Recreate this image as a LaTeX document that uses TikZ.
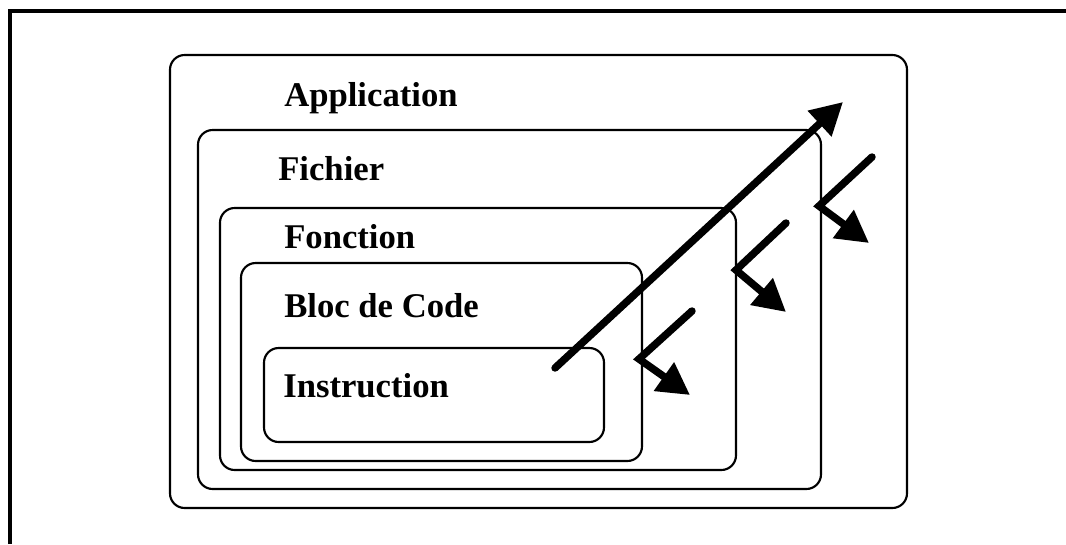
\documentclass[tikz,border=0pt]{standalone}
\usepackage{fontspec}
\setmainfont{Liberation Serif}
\usetikzlibrary{arrows.meta}

\tikzset{
  layer/.style={line width=1.6pt, rounded corners=11pt},
  layername/.style={anchor=base west, inner sep=0pt, font=\bfseries\fontsize{26}{30}\selectfont},
  flow/.style={line width=5.6pt, line cap=round, -{Triangle[length=24pt,width=25pt]}}
}

\begin{document}
\begin{tikzpicture}[x=0.75pt,y=-0.75pt]
  \useasboundingbox (0,0) rectangle (1066,544);
  % page frame
  \draw[line width=3pt] (9.5,544) -- (9.5,10.5) -- (1066,10.5);

  % nested layers, outermost first
  \draw[layer] (170,55) rectangle (907,508);
  \draw[layer] (198,130) rectangle (821,489);
  \draw[layer] (220,208) rectangle (736,470);
  \draw[layer] (241,263) rectangle (642,461);
  \draw[layer] (264,348) rectangle (604,442);

  \node[layername] (app)   at (284,106) {Application};
  \node[layername] (fich)  at (278,180) {Fichier};
  \node[layername] (fonc)  at (284,248) {Fonction};
  \node[layername] (bloc)  at (284,317) {Bloc de Code};
  \node[layername] (instr) at (283,397) {Instruction};

  % scope grows outwards
  \coordinate (up0) at (555,368);
  \coordinate (up1) at (843,102);
  \draw[flow] (up0) -- (up1);

  % entry points of each level
  \foreach \n/\sx/\sy/\cx/\cy/\tx/\ty in {a/692/311/639/359/690/395,
                                         b/786/223/736/270/786/312,
                                         c/872/157/819/206/869/243} {
    \coordinate (s\n) at (\sx,\sy);
    \coordinate (c\n) at (\cx,\cy);
    \coordinate (t\n) at (\tx,\ty);
    \draw[flow] (s\n) -- (c\n) -- (t\n);
  }
\end{tikzpicture}
\end{document}
